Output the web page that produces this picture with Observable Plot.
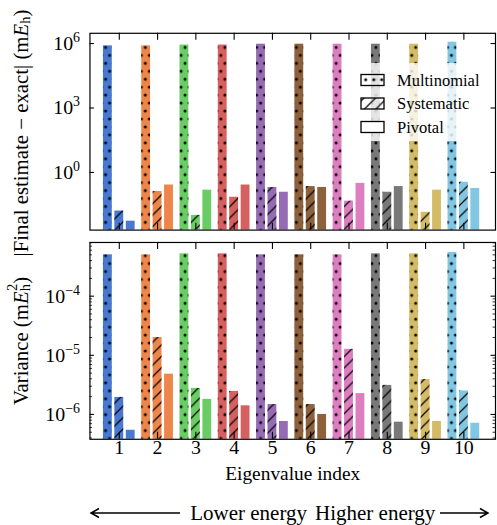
<!DOCTYPE html>
<html><head><meta charset="utf-8">
<script src="https://cdn.jsdelivr.net/npm/d3@7"></script>
<script src="https://cdn.jsdelivr.net/npm/@observablehq/plot@0.6"></script>
<style>
html,body{margin:0;padding:0;background:#fff;overflow:hidden}
#fig{position:relative;width:497px;height:525px;overflow:hidden;background:#fff}
#fig svg{position:absolute;left:0}
</style></head><body><div id="fig"></div>
<script>
// ---- data ----
const categories = [1, 2, 3, 4, 5, 6, 7, 8, 9, 10];
const colors = ["#4878d0","#ee854a","#6acc64","#d65f5f","#956cb4","#8c613c","#dc7ec0","#797979","#d5bb67","#82c6e2"];
const seriesNames = ["Multinomial", "Systematic", "Pivotal"];
// |Final estimate - exact| (mE_h)
const multinomialError = [7.8e5, 7.8e5, 8.5e5, 8.5e5, 9.3e5, 9.3e5, 9.3e5, 9.3e5, 9.3e5, 1.15e6];
const systematicError  = [0.016, 0.13, 0.010, 0.07, 0.20, 0.22, 0.046, 0.12, 0.014, 0.35];
const pivotalError     = [0.0054, 0.26, 0.15, 0.26, 0.12, 0.20, 0.31, 0.22, 0.15, 0.18];
// Variance (mE_h^2)
const multinomialVariance = [5.0e-4, 5.0e-4, 5.2e-4, 5.2e-4, 5.0e-4, 5.0e-4, 5.0e-4, 5.2e-4, 5.2e-4, 5.5e-4];
const systematicVariance  = [1.94e-6, 2.0e-5, 2.75e-6, 2.45e-6, 1.47e-6, 1.47e-6, 1.26e-5, 3.1e-6, 3.9e-6, 2.5e-6];
const pivotalVariance     = [5.4e-7, 4.8e-6, 1.8e-6, 1.4e-6, 7.6e-7, 1.0e-6, 2.25e-6, 7.4e-7, 7.6e-7, 7.1e-7];
const topTicks = [1, 1e3, 1e6];
const topTickLabels = ["10^0", "10^3", "10^6"];
const bottomTicks = [1e-6, 1e-5, 1e-4];
const bottomTickLabels = ["10^−6", "10^−5", "10^−4"];
const xLabel = "Eigenvalue index";

// ---- layout ----
const FONT = "'Liberation Serif','Times New Roman',Times,serif";
const W = 500, X0 = 90, X1 = 498;
const PO = 0.296, ALIGN = 0.449;
const step = (X1 - X0) / (categories.length + 2 * PO);
const BAR_W = 8.9, OFF = 11.5;
const inset = (step - BAR_W) / 2;
const fig = document.getElementById("fig");

function rows(m, s, p) {
  return categories.map((c, i) => ({cat: c, color: colors[i], m: m[i], s: s[i], p: p[i]}));
}
function minorsFor(domain) {
  const out = [];
  for (let e = Math.floor(Math.log10(domain[0])); e <= Math.ceil(Math.log10(domain[1])); e++)
    for (let k = 2; k <= 9; k++) { const v = k * Math.pow(10, e); if (v > domain[0] && v < domain[1]) out.push(v); }
  return out;
}
function addPatterns(svg, prefix, offY) {
  const defs = d3.select(svg).insert("defs", ":first-child");
  const dp = defs.append("pattern").attr("id", prefix + "-dots").attr("patternUnits", "userSpaceOnUse")
    .attr("width", 8).attr("height", 16).attr("x", -0.3).attr("y", 3.7 - offY);
  dp.append("circle").attr("cx", 2).attr("cy", 4).attr("r", 1.5).attr("fill", "black");
  dp.append("circle").attr("cx", 6).attr("cy", 12).attr("r", 1.5).attr("fill", "black");
  const sp = defs.append("pattern").attr("id", prefix + "-slash").attr("patternUnits", "userSpaceOnUse")
    .attr("width", 11.5).attr("height", 11.5).attr("x", 0).attr("y", 2 - offY);
  sp.append("path").attr("d", "M0,11.5 L11.5,0 M-1,1 L1,-1 M10.5,12.5 L12.5,10.5")
    .attr("stroke", "black").attr("stroke-width", 1.2).attr("fill", "none");
}
function superscriptify(svg) {
  d3.select(svg).selectAll("text").each(function () {
    const t = this.textContent;
    if (!t.includes("^")) return;
    const [b, e] = t.split("^");
    const sel = d3.select(this);
    sel.selectAll("*").remove();
    sel.text(null);
    sel.append("tspan").text(b);
    sel.append("tspan").attr("dy", "-8px").attr("font-size", "14px").text(e);
  });
}

function panel({data, yDomain, height, marginTop, marginBottom, majors, majorLabels, minors, prefix, offY, extra}) {
  const frameW = X1 - X0;
  const frameH = height - marginTop - marginBottom;
  const marks = [];
  const series = [["m", -OFF, "dots"], ["s", 0, "slash"], ["p", OFF, null]];
  for (const [k, dx, pat] of series) {
    marks.push(Plot.barY(data, {x: "cat", y1: yDomain[0], y2: k, fill: "color", dx, insetLeft: inset, insetRight: inset}));
    if (pat) marks.push(Plot.barY(data, {x: "cat", y1: yDomain[0], y2: k, fill: `url(#${prefix}-${pat})`, dx, insetLeft: inset, insetRight: inset}));
  }
  marks.push(
    Plot.tickX(categories, {x: d => d, insetBottom: frameH - 7, stroke: "black", strokeWidth: 1.1}),
    Plot.tickX(categories, {x: d => d, insetTop: frameH - 7, stroke: "black", strokeWidth: 1.1}),
    Plot.tickY(majors, {y: d => d, insetRight: frameW - 4.5, stroke: "black", strokeWidth: 1.1}),
    Plot.tickY(majors, {y: d => d, insetLeft: frameW - 4.5, stroke: "black", strokeWidth: 1.1}),
    Plot.tickY(minors, {y: d => d, insetRight: frameW - 2.5, stroke: "black", strokeWidth: 0.8}),
    Plot.tickY(minors, {y: d => d, insetLeft: frameW - 2.5, stroke: "black", strokeWidth: 0.8}),
    Plot.frame({stroke: "black", strokeWidth: 1.2}),
    Plot.text(majors, {y: d => d, text: (d, i) => majorLabels[i], frameAnchor: "left", dx: -10, textAnchor: "end", fontSize: 20, fill: "black"}),
    ...extra
  );
  const svg = Plot.plot({
    width: W, height, marginLeft: X0, marginRight: W - X1, marginTop, marginBottom,
    style: {fontFamily: FONT, background: "transparent", color: "black", overflow: "visible"},
    x: {type: "band", domain: categories, range: [X0, X1], paddingInner: 0, paddingOuter: PO, align: ALIGN, round: false, axis: null},
    y: {type: "log", domain: yDomain, axis: null},
    color: {type: "identity"},
    marks
  });
  addPatterns(svg, prefix, offY);
  superscriptify(svg);
  return svg;
}

const topDomain = [Math.pow(10, -2.683), Math.pow(10, 6.476)];
const topSvg = panel({
  data: rows(multinomialError, systematicError, pivotalError), yDomain: topDomain,
  height: 238, marginTop: 33, marginBottom: 7, majors: topTicks, majorLabels: topTickLabels,
  minors: [], prefix: "top", offY: 0, extra: []
});
topSvg.style.top = "0px";
fig.appendChild(topSvg);

const botDomain = [Math.pow(10, -6.42), Math.pow(10, -3.092)];
const botSvg = panel({
  data: rows(multinomialVariance, systematicVariance, pivotalVariance), yDomain: botDomain,
  height: 287, marginTop: 4, marginBottom: 85, majors: bottomTicks, majorLabels: bottomTickLabels,
  minors: minorsFor(botDomain), prefix: "bot", offY: 238,
  extra: [
    Plot.text(categories, {x: d => d, text: d => String(d), frameAnchor: "bottom", dy: 15, fontSize: 20, fill: "black"}),
    Plot.text([xLabel], {text: d => d, frameAnchor: "bottom", dy: 41, fontSize: 19.5, fill: "black"})
  ]
});
botSvg.style.top = "238px";
fig.appendChild(botSvg);

// ---- overlay: axis titles, legend, energy arrows ----
const ov = d3.select(fig).append("svg").attr("width", 497).attr("height", 525)
  .style("top", "0px").style("font-family", FONT);
addPatterns(ov.node(), "leg", 0);

function yTitle(cy, parts) {
  const t = ov.append("text").attr("x", 20).attr("y", cy).attr("text-anchor", "middle")
    .attr("dominant-baseline", "central").attr("font-size", 20.8).attr("fill", "black")
    .attr("transform", `rotate(-90,20,${cy})`);
  for (const p of parts) {
    const s = t.append("tspan").text(p.t);
    if (p.i) s.attr("font-style", "italic");
    if (p.fs) s.attr("font-size", p.fs);
    if (p.dy) s.attr("dy", p.dy);
    if (p.dx) s.attr("dx", p.dx);
  }
}
yTitle(133, [{t: "|Final estimate − exact| (m"}, {t: "E", i: true}, {t: "h", fs: "14.5px", dy: "5px"}, {t: ")", dy: "-5px"}]);
yTitle(341, [{t: "Variance (m"}, {t: "E", i: true}, {t: "h", fs: "14.5px", dy: "5px"}, {t: "2", fs: "14.5px", dx: "-7px", dy: "-13px"}, {t: ")", dy: "8px"}]);

// legend
ov.append("rect").attr("x", 352).attr("y", 63).attr("width", 137).attr("height", 78).attr("rx", 4)
  .attr("fill", "white").attr("fill-opacity", 0.8);
const legFills = ["url(#leg-dots)", "url(#leg-slash)", "white"];
const legY = [80, 103.5, 127];
seriesNames.forEach((name, i) => {
  ov.append("rect").attr("x", 361).attr("y", legY[i] - 5.5).attr("width", 23).attr("height", 11)
    .attr("fill", legFills[i]).attr("stroke", "black").attr("stroke-width", 1.3);
  ov.append("text").attr("x", 397).attr("y", legY[i]).attr("dominant-baseline", "central")
    .attr("font-size", 16.5).attr("fill", "black").text(name);
});

// energy arrows
const ay = 513;
ov.append("path").attr("d", `M180,${ay} L91,${ay} M99,${ay - 4.5} L91,${ay} L99,${ay + 4.5}`)
  .attr("stroke", "black").attr("stroke-width", 1.5).attr("fill", "none");
ov.append("path").attr("d", `M440,${ay} L488,${ay} M480,${ay - 4.5} L488,${ay} L480,${ay + 4.5}`)
  .attr("stroke", "black").attr("stroke-width", 1.5).attr("fill", "none");
ov.append("text").attr("x", 307).attr("y", ay).attr("text-anchor", "end").attr("dominant-baseline", "central")
  .attr("font-size", 21).attr("fill", "black").text("Lower energy");
ov.append("text").attr("x", 315).attr("y", ay).attr("text-anchor", "start").attr("dominant-baseline", "central")
  .attr("font-size", 21).attr("fill", "black").text("Higher energy");
</script></body></html>
